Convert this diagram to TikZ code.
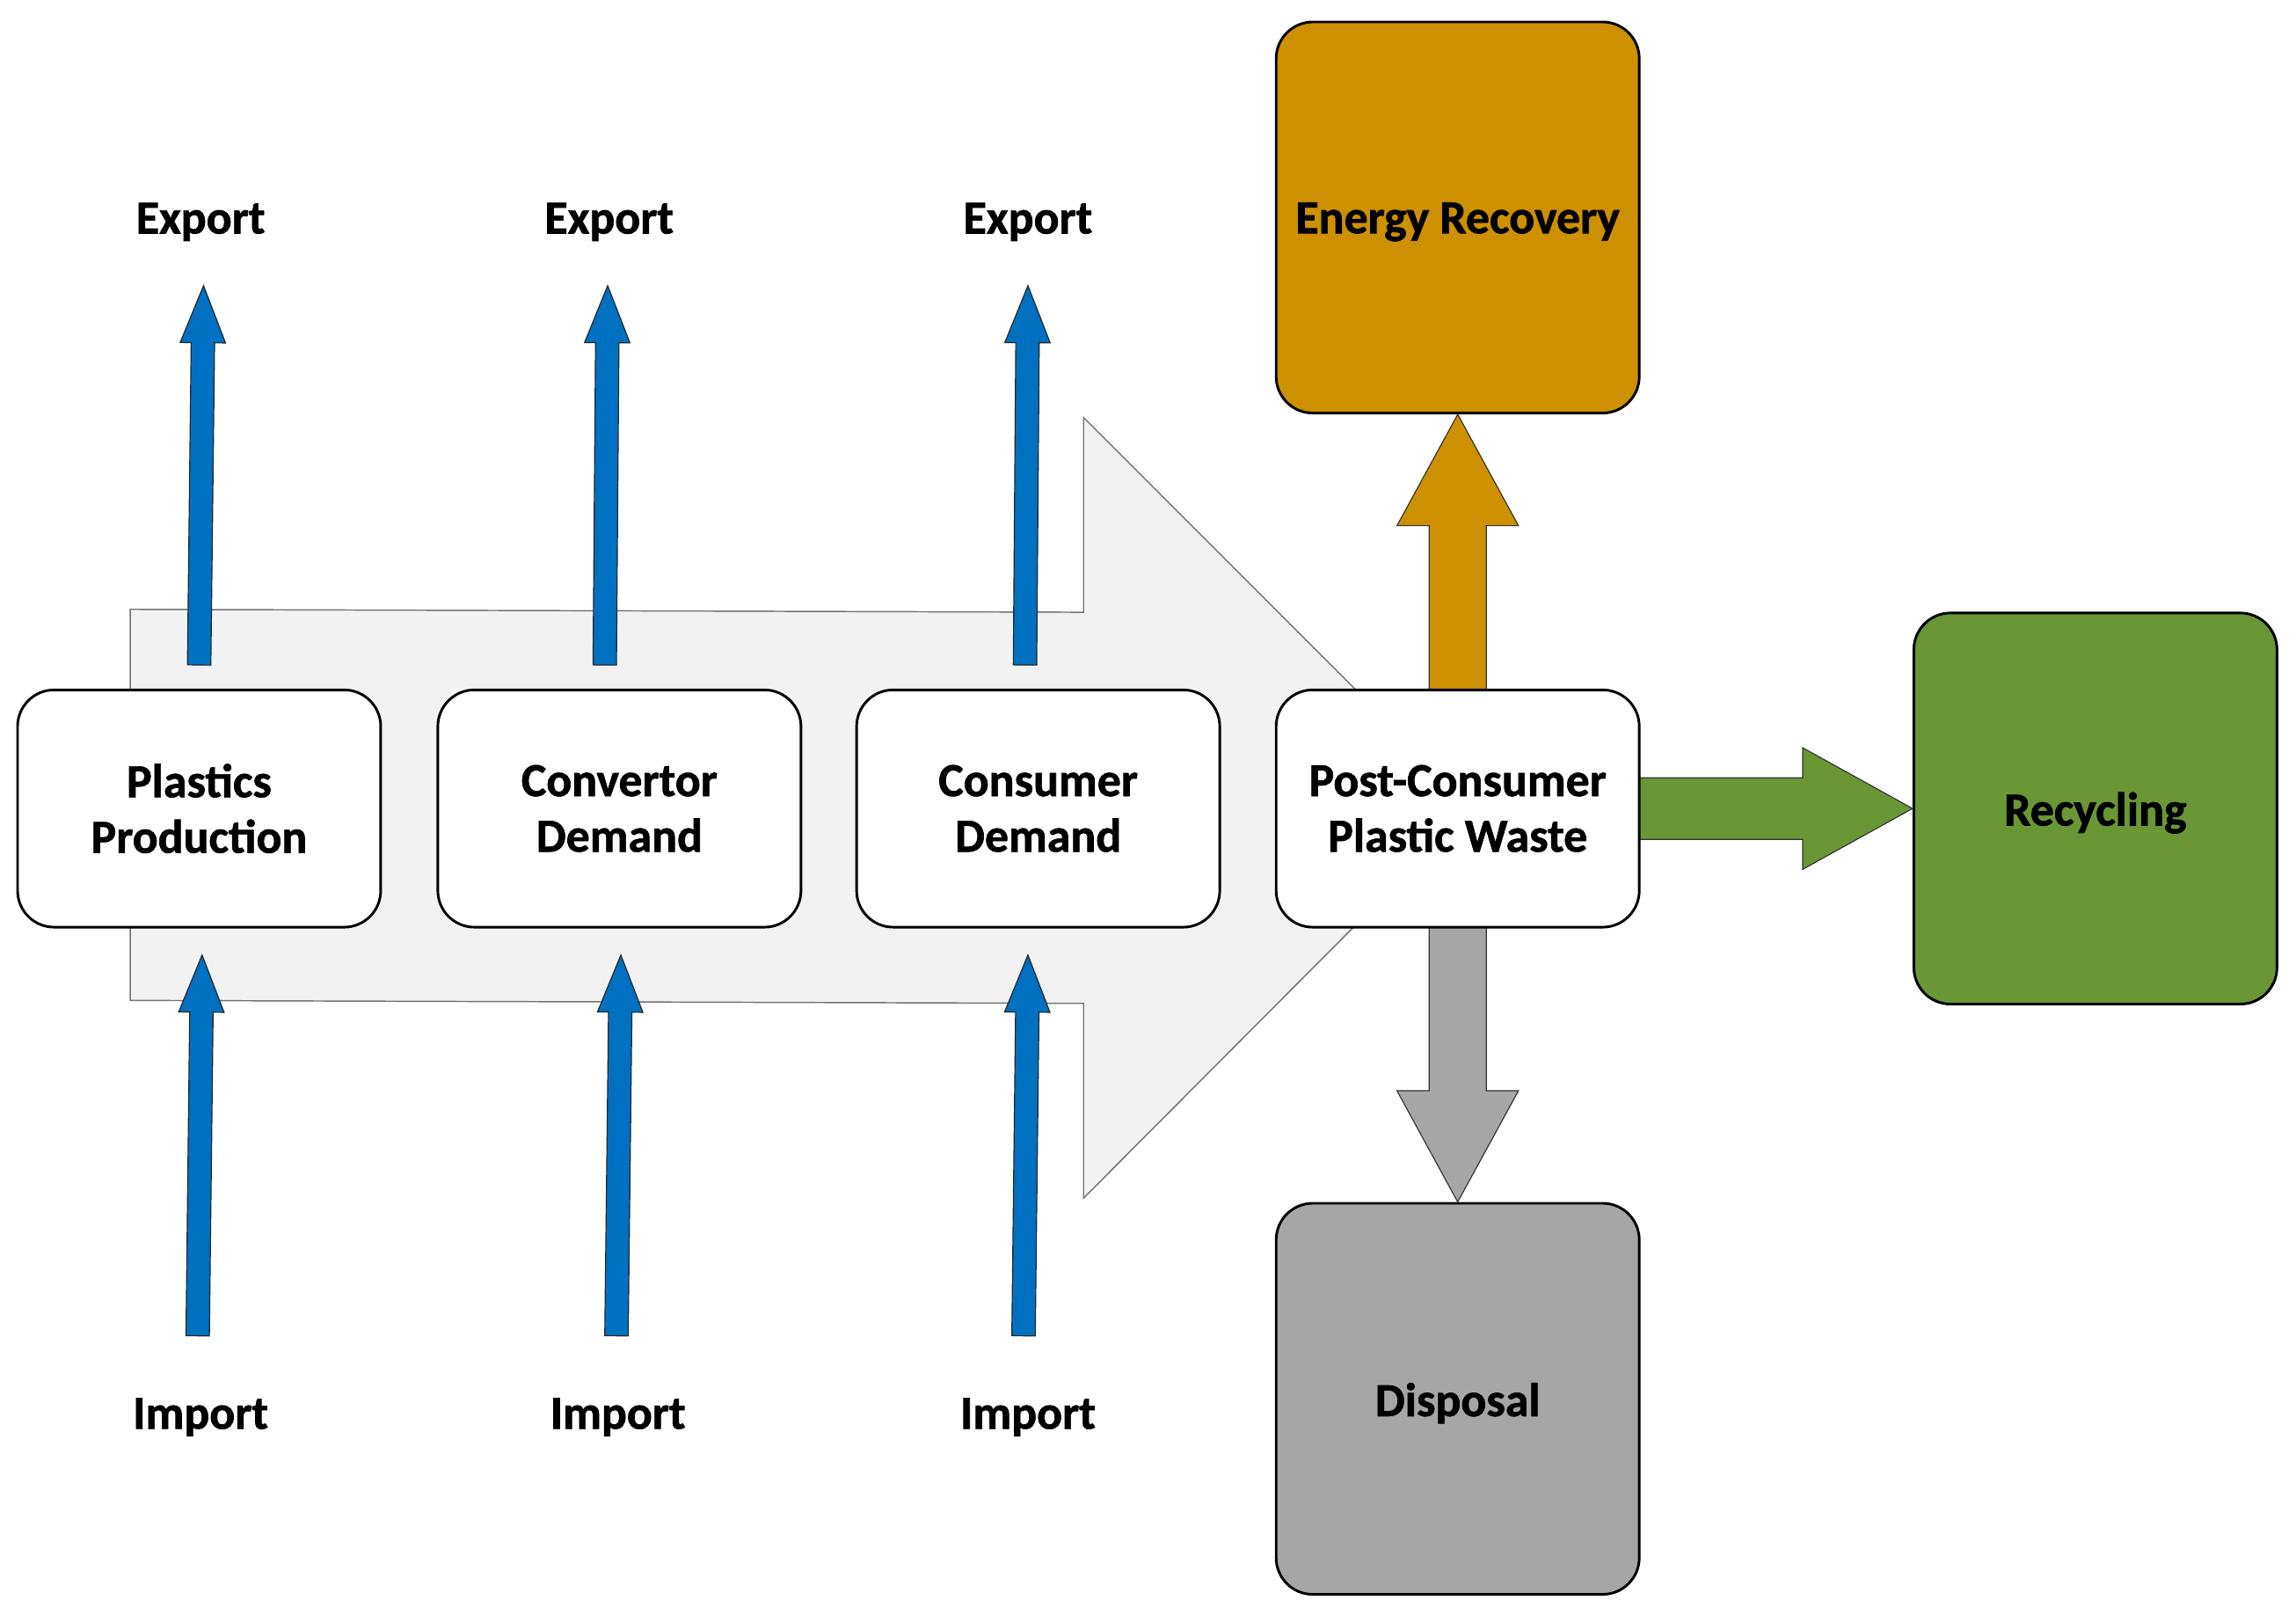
\documentclass[tikz,border=0pt]{standalone}
\usepackage{fontspec}
\setmainfont{Carlito}[BoldFeatures={FakeBold=1.2}]
\usetikzlibrary{calc}
\definecolor{bluearr}{RGB}{0,112,192}
\definecolor{orangebox}{RGB}{205,144,0}
\definecolor{greenbox}{RGB}{106,150,54}
\definecolor{graybox}{RGB}{166,166,166}
\definecolor{lightarr}{RGB}{242,242,242}
\newcommand{\blockarrow}[6]{%
  \coordinate (tmpC) at ($(#3)!#6!(#2)$);
  \path[#1] ($(#2)!#4!90:(#3)$) -- ($(tmpC)!#4!90:(#3)$) -- ($(tmpC)!#5!90:(#3)$) -- (#3)
    -- ($(tmpC)!#5!-90:(#3)$) -- ($(tmpC)!#4!-90:(#3)$) -- ($(#2)!#4!-90:(#3)$) -- cycle;
}
\tikzset{
  lbl/.style={font=\fontsize{18.4}{21.6}\selectfont\bfseries, align=center, inner sep=0pt},
  box/.style={lbl, draw=black, line width=1pt, rounded corners=5mm, fill=white,
    minimum width=49.6mm, minimum height=32.4mm},
  bigbox/.style={box, minimum height=53.4mm},
  boxtext/.style={label={[lbl,yshift=-0.6mm]center:#1}},
  bluearrow/.style={fill=bluearr, draw=black!85, line width=0.4pt},
  orangearrow/.style={fill=orangebox, draw=black!80, line width=0.4pt},
  grayarrow/.style={fill=graybox, draw=black!80, line width=0.4pt},
  greenarrow/.style={fill=greenbox, draw=black!80, line width=0.4pt},
  flowarrow/.style={fill=lightarr, draw=black!55, line width=0.5pt}
}
\begin{document}
\begin{tikzpicture}[x=0.2mm,y=-0.2mm]
\useasboundingbox (0,0) rectangle (1568,1106.8);

% big background flow arrow
\path[flowarrow] (89,416) -- (740,418) -- (740,285) -- (1006,551) -- (740,818) -- (740,685) -- (89,683) -- cycle;

% named coordinates for the blue import/export arrows
\coordinate (e1b) at (136,454); \coordinate (e1t) at (139,195);
\coordinate (e2b) at (413,454); \coordinate (e2t) at (415,195);
\coordinate (e3b) at (700,454); \coordinate (e3t) at (702,195);
\coordinate (i1b) at (135,912); \coordinate (i1t) at (138,652);
\coordinate (i2b) at (421,912); \coordinate (i2t) at (424,652);
\coordinate (i3b) at (699,912); \coordinate (i3t) at (702,652);

\blockarrow{bluearrow}{e1b}{e1t}{1.6mm}{3.1mm}{7.8mm}
\blockarrow{bluearrow}{e2b}{e2t}{1.6mm}{3.1mm}{7.8mm}
\blockarrow{bluearrow}{e3b}{e3t}{1.6mm}{3.1mm}{7.8mm}
\blockarrow{bluearrow}{i1b}{i1t}{1.6mm}{3.1mm}{7.8mm}
\blockarrow{bluearrow}{i2b}{i2t}{1.6mm}{3.1mm}{7.8mm}
\blockarrow{bluearrow}{i3b}{i3t}{1.6mm}{3.1mm}{7.8mm}

% labels
\node[lbl] (ex1) at (137,151.5) {Export};
\node[lbl] (ex2) at (416,151.5) {Export};
\node[lbl] (ex3) at (702,151.5) {Export};
\node[lbl] (im1) at (137,967.5) {Import};
\node[lbl] (im2) at (422,967.5) {Import};
\node[lbl] (im3) at (702,967.5) {Import};

% outcome boxes
\node[bigbox, fill=orangebox, boxtext={Energy Recovery}] (energy) at (995.5,148.5) {};
\node[bigbox, fill=greenbox, boxtext={Recycling}] (recycling) at (1431,552) {};
\node[bigbox, fill=graybox, boxtext={Disposal}] (disposal) at (995.5,955) {};

% chain boxes (placed first as coordinates for arrows, drawn on top below)
\path (995.5,552) coordinate (postC);
\coordinate (postN) at (995.5,471);
\coordinate (postS) at (995.5,633);
\coordinate (postE) at (1119,552);
\blockarrow{orangearrow}{postN}{energy.south}{3.9mm}{8.3mm}{15.2mm}
\blockarrow{grayarrow}{postS}{disposal.north}{3.9mm}{8.3mm}{15.2mm}
\blockarrow{greenarrow}{postE}{recycling.west}{4.2mm}{8.3mm}{15mm}

\node[box] (plastics) at (136,552) {Plastics\\Production};
\node[box] (convertor) at (423,552) {Convertor\\Demand};
\node[box] (consumer) at (709,552) {Consumer\\Demand};
\node[box] (post) at (postC) {Post-Consumer\\Plastic Waste};
\end{tikzpicture}
\end{document}
